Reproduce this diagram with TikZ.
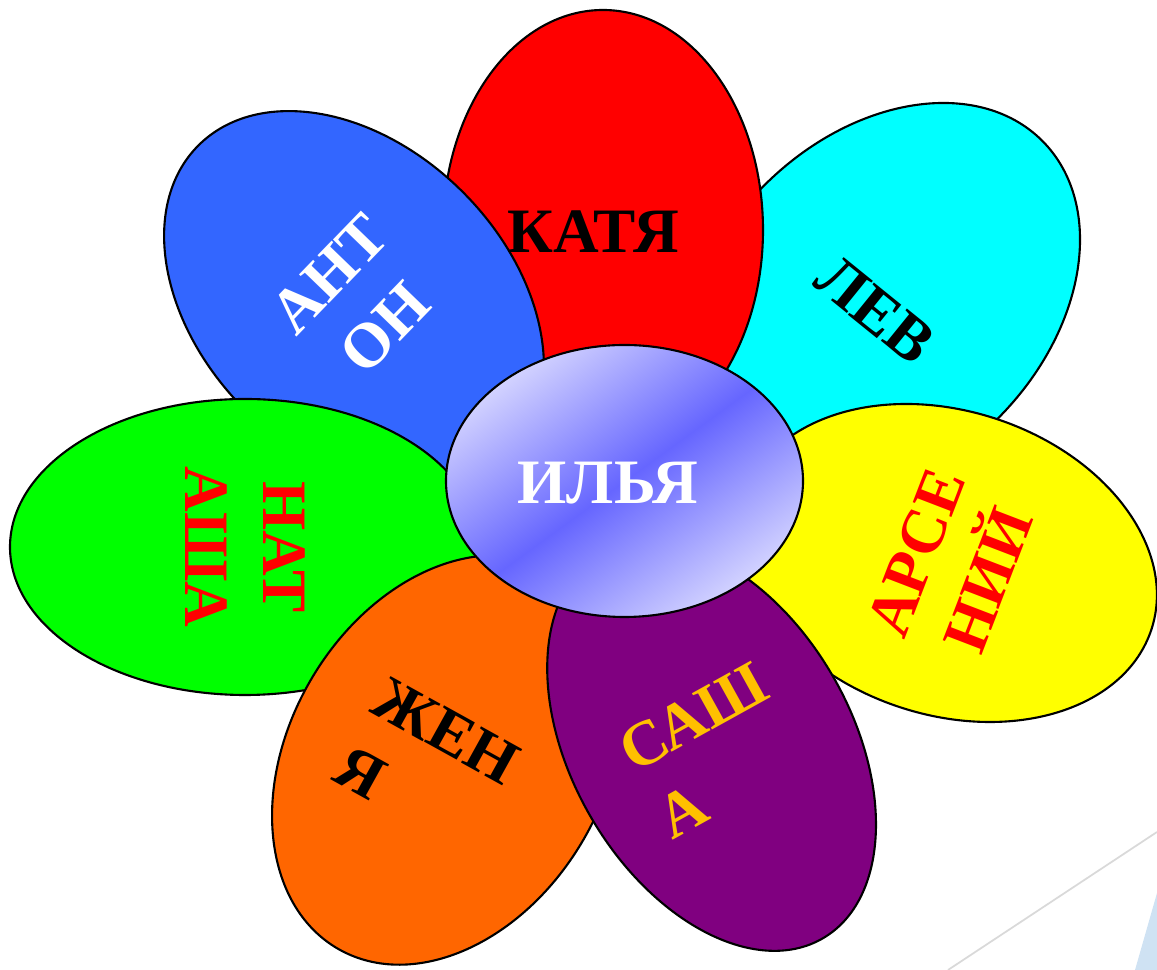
\documentclass[tikz,border=0pt]{standalone}
\usepackage{fontspec}
\setmainfont{Liberation Serif}
\definecolor{petalcyan}{HTML}{00FFFF}
\definecolor{petalred}{HTML}{FF0000}
\definecolor{petalblue}{HTML}{3366FF}
\definecolor{petalgreen}{HTML}{00FF00}
\definecolor{petalyellow}{HTML}{FFFF00}
\definecolor{petalorange}{HTML}{FF6600}
\definecolor{petalpurple}{HTML}{800080}
\definecolor{sashagold}{HTML}{FFC000}
\definecolor{centerlight}{HTML}{D4D4FF}
\definecolor{centerdark}{HTML}{6666FF}
\definecolor{decoline}{HTML}{D9D9D9}
\definecolor{decoblue}{HTML}{CFE2F3}
\begin{document}
\begin{tikzpicture}[petal/.style={draw=black,line width=0.6pt},
  lbl/.style={font=\fontsize{18}{22}\selectfont\bfseries,align=center,inner sep=0pt}]
\useasboundingbox (0,0) rectangle (11.57,9.70);
% slide corner
\fill[decoblue] (11.57,0.77) -- (11.35,0) -- (11.57,0) -- cycle;
\coordinate (rayA) at (9.48,0);
\coordinate (rayB) at (11.57,1.38);
\draw[decoline,line width=0.5pt] (rayA) -- (rayB);
% petals, back to front
\draw[petal,fill=petalcyan,rotate around={45:(8.81,6.68)}] (8.81,6.68) ellipse [x radius=2.28,y radius=1.65];
\draw[petal,fill=petalred] (6.03,7.40) ellipse [x radius=1.60,y radius=2.20];
\draw[petal,fill=petalblue,rotate around={-45:(3.54,6.69)}] (3.54,6.69) ellipse [x radius=2.20,y radius=1.54];
\draw[petal,fill=petalgreen] (2.45,4.23) ellipse [x radius=2.35,y radius=1.48];
\draw[petal,fill=petalyellow,rotate around={-18:(9.48,4.07)}] (9.48,4.07) ellipse [x radius=2.14,y radius=1.52];
\draw[petal,fill=petalorange,rotate around={60:(4.47,2.10)}] (4.47,2.10) ellipse [x radius=2.18,y radius=1.58];
\draw[petal,fill=petalpurple,rotate around={-60:(7.116,2.238)}] (7.116,2.238) ellipse [x radius=2.22,y radius=1.40];
% centre
\draw[petal,top color=centerlight,bottom color=centerlight,middle color=centerdark,shading angle=36]
  (6.245,4.89) ellipse [x radius=1.785,y radius=1.36];
% names
\node[lbl] (ilya) at (6.08,4.87) [text=white] {ИЛЬЯ};
\node[lbl] (katya) at (5.93,7.38) {КАТЯ};
\node[lbl,rotate=-39] (lev) at (8.75,6.60) {ЛЕВ};
\node[lbl,text=white,rotate=46] (anton) at (3.57,6.69) {АНТ\\ОН};
\node[lbl,text=petalred,rotate=-90] (natasha) at (2.455,4.23) {НАТ\\АША};
\node[lbl,text=petalred,rotate=69] (arseniy) at (9.52,4.035) {АРСЕ\\НИЙ};
\node[lbl,align=left,rotate=-29] (zhenya) at (4.27,2.055) {ЖЕН\\Я};
\node[lbl,align=left,text=sashagold,rotate=29] (sasha) at (7.123,2.197) {САШ\\А};
\end{tikzpicture}
\end{document}
